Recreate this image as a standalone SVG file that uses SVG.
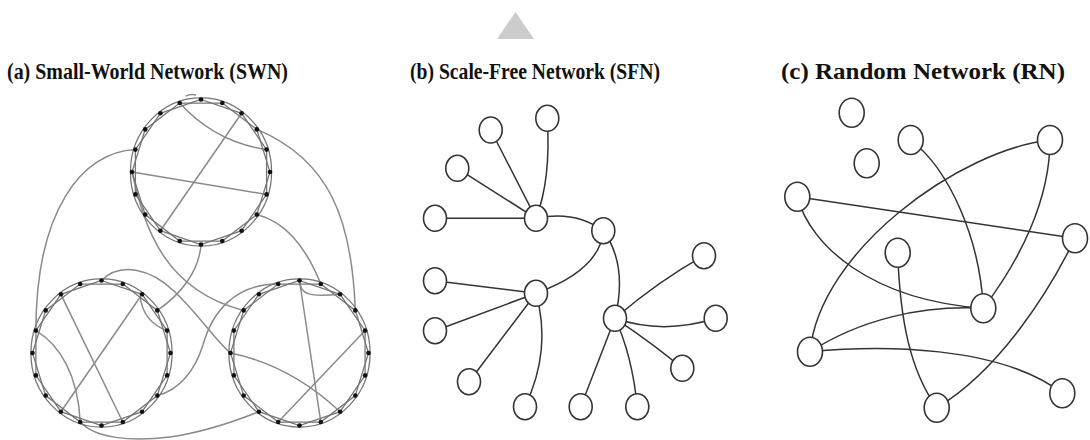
<svg xmlns="http://www.w3.org/2000/svg" xmlns:xlink="http://www.w3.org/1999/xlink" width="1090" height="440" viewBox="0 0 1090 440">
<style>
.title{font-family:"Liberation Serif","Times New Roman",serif;font-weight:bold;font-size:23px;fill:#111}
.ring{fill:none;stroke:#747474;stroke-width:1.25}
.swe{fill:none;stroke:#8a8a8a;stroke-width:1.5}
.dot{fill:#111}
.e{fill:none;stroke:#333;stroke-width:1.5}
.n{fill:#fff;stroke:#333;stroke-width:1.6}
</style>
<defs>
<g id="ringshape">
<ellipse class="ring" cx="0" cy="0" rx="70.6" ry="74.1"/>
<polygon class="ring" points="0,-72.5 40.6,-58.7 65.6,-22.4 65.6,22.4 40.6,58.7 0,72.5 -40.6,58.7 -65.6,22.4 -65.6,-22.4 -40.6,-58.7"/>
<polygon class="ring" points="21.3,-69 55.8,-42.6 69,0 55.8,42.6 21.3,69 -21.3,69 -55.8,42.6 -69,0 -55.8,-42.6 -21.3,-69"/>
<g class="dot">
<circle cx="0" cy="-72.5" r="2.3"/><circle cx="21.3" cy="-69" r="2.3"/><circle cx="40.6" cy="-58.7" r="2.3"/><circle cx="55.8" cy="-42.6" r="2.3"/><circle cx="65.6" cy="-22.4" r="2.3"/>
<circle cx="69" cy="0" r="2.3"/><circle cx="65.6" cy="22.4" r="2.3"/><circle cx="55.8" cy="42.6" r="2.3"/><circle cx="40.6" cy="58.7" r="2.3"/><circle cx="21.3" cy="69" r="2.3"/>
<circle cx="0" cy="72.5" r="2.3"/><circle cx="-21.3" cy="69" r="2.3"/><circle cx="-40.6" cy="58.7" r="2.3"/><circle cx="-55.8" cy="42.6" r="2.3"/><circle cx="-65.6" cy="22.4" r="2.3"/>
<circle cx="-69" cy="0" r="2.3"/><circle cx="-65.6" cy="-22.4" r="2.3"/><circle cx="-55.8" cy="-42.6" r="2.3"/><circle cx="-40.6" cy="-58.7" r="2.3"/><circle cx="-21.3" cy="-69" r="2.3"/>
</g>
</g>
</defs>
<rect width="1090" height="440" fill="#fff"/>
<polygon points="515.5,12 497,39 534,39" fill="#cccccc"/>
<g id="titles">
<text class="title" x="7" y="79" textLength="281" lengthAdjust="spacingAndGlyphs">(a) Small-World Network (SWN)</text>
<text class="title" x="410" y="79" textLength="250" lengthAdjust="spacingAndGlyphs">(b) Scale-Free Network (SFN)</text>
<text class="title" x="781" y="79" textLength="284" lengthAdjust="spacingAndGlyphs">(c) Random Network (RN)</text>
</g>
<g id="connectors">
<g id="swn-edges">
<path class="swe" d="M135.4,149.6 C82,152 36,210 35.9,330.6"/>
<path class="swe" d="M132,172 C145,230 165,290 243.7,310.4"/>
<path class="swe" d="M201,244.5 C199,272 180,295 157.3,310.4"/>
<path class="swe" d="M256.8,129.4 C330,160 352,220 355.3,310.4"/>
<path class="swe" d="M256.8,214.6 C285,222 305,245 320.8,284"/>
<path class="swe" d="M101.5,280.5 C120,262 150,268 175,292 S215,340 230.5,353"/>
<path class="swe" d="M157.3,395.6 C180,390 195,370 203,345 C212,312 235,284 278.2,284"/>
<path class="swe" d="M80.2,422 C95,438 130,442 170,437 C205,432 238,420 258.9,411.7"/>
<path class="swe" d="M241.6,113.3 L160.4,230.7"/>
<path class="swe" d="M132,172 L266.6,194.4"/>
<path class="swe" d="M179.7,103 Q215,142 266.6,149.6"/>
<path class="swe" d="M186,96 Q191,93.5 196,95"/>
<path class="swe" d="M60.9,294.3 L122.8,422"/>
<path class="swe" d="M142.1,294.3 L60.9,411.7"/>
<path class="swe" d="M35.9,330.6 C60,345 78,375 80.2,422"/>
<path class="swe" d="M140,296 Q143,322 167.1,330.6"/>
<path class="swe" d="M299.5,280.5 L320.8,422"/>
<path class="swe" d="M299.5,280.5 C300,295 310,297 340.1,294.3"/>
<path class="swe" d="M365.1,330.6 L278.2,422"/>
<path class="swe" d="M230.5,353 Q290,365 340.1,411.7"/>
</g>
<g id="sfn-edges">
<path class="e" d="M435,218.3 L536,218.3" stroke-width="2.2"/>
<path class="e" d="M457.3,168.3 L536,218.3"/>
<path class="e" d="M490.7,130 L536,218.3"/>
<path class="e" d="M547.3,118.3 Q551,180 536,218.3"/>
<path class="e" d="M536,218.3 Q575,210 603.3,230.7"/>
<path class="e" d="M603.3,230.7 Q600,270 536,293.3"/>
<path class="e" d="M603.3,230.7 Q628,265 615,318.3"/>
<path class="e" d="M615,318.3 Q660,280 704,255.7"/>
<path class="e" d="M615,318.3 Q663,335 715.7,318.3"/>
<path class="e" d="M615,318.3 Q655,345 682.3,368.3"/>
<path class="e" d="M615,318.3 L580.7,406.7"/>
<path class="e" d="M615,318.3 Q632,355 637.3,406.7"/>
<path class="e" d="M435,280.7 L536,293.3"/>
<path class="e" d="M435,330.7 L536,293.3"/>
<path class="e" d="M469,381.7 L536,293.3"/>
<path class="e" d="M536,293.3 Q552,350 525,406.7"/>
</g>
<g id="rn-edges">
<path class="e" d="M797.3,196.7 L1075,238.3"/>
<path class="e" d="M797.3,196.7 C810,245 870,300 983.3,308.3"/>
<path class="e" d="M1050,140 C960,150 820,250 810,351.7"/>
<path class="e" d="M910.7,140 C950,170 980,240 983.3,308.3"/>
<path class="e" d="M1050,140 C1050,200 1020,260 983.3,308.3"/>
<path class="e" d="M1075,238.3 C1050,290 1000,370 936.7,407.7"/>
<path class="e" d="M897.7,252.7 C900,320 910,370 936.7,407.7"/>
<path class="e" d="M810,351.7 C860,320 920,305 983.3,308.3"/>
<path class="e" d="M810,351.7 C880,345 1000,345 1062.3,393.3"/>
</g>
</g>
<g id="swn-top"><use xlink:href="#ringshape" href="#ringshape" transform="translate(201,172)"/></g>
<g id="swn-left"><use xlink:href="#ringshape" href="#ringshape" transform="translate(101.5,353)"/></g>
<g id="swn-right"><use xlink:href="#ringshape" href="#ringshape" transform="translate(299.5,353)"/></g>
<g id="sfn-nodes">
<g id="sfn-a"><ellipse class="n" cx="547.3" cy="118.3" rx="11.5" ry="13"/></g>
<g id="sfn-b"><ellipse class="n" cx="490.7" cy="130" rx="11.5" ry="13"/></g>
<g id="sfn-c"><ellipse class="n" cx="457.3" cy="168.3" rx="11.5" ry="13"/></g>
<g id="sfn-d"><ellipse class="n" cx="435" cy="218.3" rx="11.5" ry="13"/></g>
<g id="sfn-hub1"><ellipse class="n" cx="536" cy="218.3" rx="11.5" ry="13"/></g>
<g id="sfn-e"><ellipse class="n" cx="603.3" cy="230.7" rx="11.5" ry="13"/></g>
<g id="sfn-f"><ellipse class="n" cx="704" cy="255.7" rx="11.5" ry="13"/></g>
<g id="sfn-g"><ellipse class="n" cx="435" cy="280.7" rx="11.5" ry="13"/></g>
<g id="sfn-h"><ellipse class="n" cx="435" cy="330.7" rx="11.5" ry="13"/></g>
<g id="sfn-hub3"><ellipse class="n" cx="536" cy="293.3" rx="11.5" ry="13"/></g>
<g id="sfn-i"><ellipse class="n" cx="469" cy="381.7" rx="11.5" ry="13"/></g>
<g id="sfn-j"><ellipse class="n" cx="525" cy="406.7" rx="11.5" ry="13"/></g>
<g id="sfn-hub4"><ellipse class="n" cx="615" cy="318.3" rx="11.5" ry="13"/></g>
<g id="sfn-k"><ellipse class="n" cx="580.7" cy="406.7" rx="11.5" ry="13"/></g>
<g id="sfn-l"><ellipse class="n" cx="637.3" cy="406.7" rx="11.5" ry="13"/></g>
<g id="sfn-m"><ellipse class="n" cx="682.3" cy="368.3" rx="11.5" ry="13"/></g>
<g id="sfn-n"><ellipse class="n" cx="715.7" cy="318.3" rx="11.5" ry="13"/></g>
</g>
<g id="rn-nodes">
<g id="rn-1"><ellipse class="n" cx="851.7" cy="112.7" rx="12.5" ry="14.5"/></g>
<g id="rn-2"><ellipse class="n" cx="910.7" cy="140" rx="12.5" ry="14.5"/></g>
<g id="rn-3"><ellipse class="n" cx="1050" cy="140" rx="12.5" ry="14.5"/></g>
<g id="rn-4"><ellipse class="n" cx="866.7" cy="163.3" rx="12.5" ry="14.5"/></g>
<g id="rn-5"><ellipse class="n" cx="797.3" cy="196.7" rx="12.5" ry="14.5"/></g>
<g id="rn-6"><ellipse class="n" cx="1075" cy="238.3" rx="12.5" ry="14.5"/></g>
<g id="rn-7"><ellipse class="n" cx="897.7" cy="252.7" rx="12.5" ry="14.5"/></g>
<g id="rn-8"><ellipse class="n" cx="983.3" cy="308.3" rx="12.5" ry="14.5"/></g>
<g id="rn-9"><ellipse class="n" cx="810" cy="351.7" rx="12.5" ry="14.5"/></g>
<g id="rn-10"><ellipse class="n" cx="936.7" cy="407.7" rx="12.5" ry="14.5"/></g>
<g id="rn-11"><ellipse class="n" cx="1062.3" cy="393.3" rx="12.5" ry="14.5"/></g>
</g>
</svg>
